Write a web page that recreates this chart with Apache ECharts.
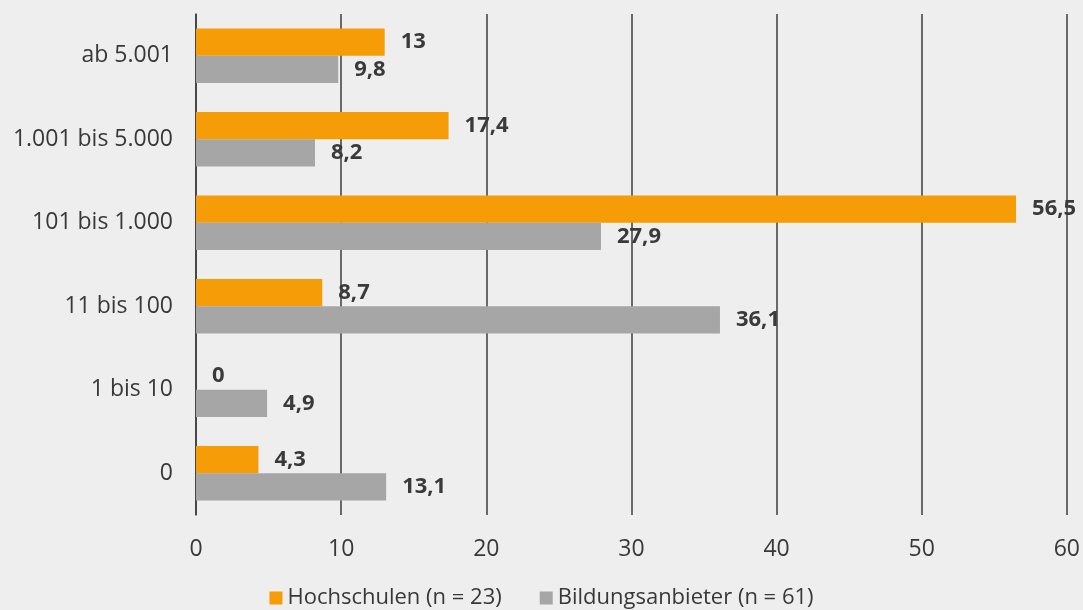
<!DOCTYPE html>
<html><head><meta charset="utf-8">
<script src="https://cdn.jsdelivr.net/npm/echarts@6/dist/echarts.min.js"></script>
<style>html,body{margin:0;padding:0;background:#eeeeee}#c{width:1083px;height:610px}</style>
</head><body><div id="c"></div>
<script>
const categories = ['0', '1 bis 10', '11 bis 100', '101 bis 1.000', '1.001 bis 5.000', 'ab 5.001'];
const hochschulen = [4.3, 0, 8.7, 56.5, 17.4, 13];
const bildungsanbieter = [13.1, 4.9, 36.1, 27.9, 8.2, 9.8];
const xTicks = [0, 10, 20, 30, 40, 50, 60];
const seriesNames = ['Hochschulen (n = 23)', 'Bildungsanbieter (n = 61)'];

const FONT = '"Open Sans", "Noto Sans", sans-serif';
const fmt = p => String(p.value).replace('.', ',');
const labelCfg = {show: true, position: 'right', distance: 16, formatter: fmt,
  fontFamily: FONT, fontSize: 22, fontWeight: 'bold', color: '#3a3a3a'};

const chart = echarts.init(document.getElementById('c'), null, {renderer: 'canvas'});
chart.setOption({
  backgroundColor: '#eeeeee',
  animation: false,
  grid: {left: 196, right: 15, top: 14, bottom: 95, containLabel: false},
  legend: {
    data: seriesNames, top: 582, left: 'center', itemWidth: 13, itemHeight: 13, itemGap: 38,
    icon: 'rect', textStyle: {fontFamily: FONT, fontSize: 22, color: '#383838'}
  },
  xAxis: {
    type: 'value', min: xTicks[0], max: xTicks[xTicks.length - 1], interval: 10,
    axisLine: {show: false}, axisTick: {show: false},
    axisLabel: {fontFamily: FONT, fontSize: 23, color: '#383838', margin: 23},
    splitLine: {show: true, lineStyle: {color: '#3c3c3c', width: 1.5}}
  },
  yAxis: {
    type: 'category', data: categories,
    axisLine: {show: true, lineStyle: {color: '#3c3c3c', width: 1.5}},
    axisTick: {show: false},
    axisLabel: {fontFamily: FONT, fontSize: 23, color: '#383838', margin: 23}
  },
  series: [
    {name: seriesNames[0], type: 'bar', data: hochschulen, barGap: '0%', barCategoryGap: '35%',
     itemStyle: {color: '#f59c07'}, label: labelCfg},
    {name: seriesNames[1], type: 'bar', data: bildungsanbieter, barGap: '0%', barCategoryGap: '35%',
     itemStyle: {color: '#a6a6a6'}, label: labelCfg}
  ]
});
</script></body></html>
